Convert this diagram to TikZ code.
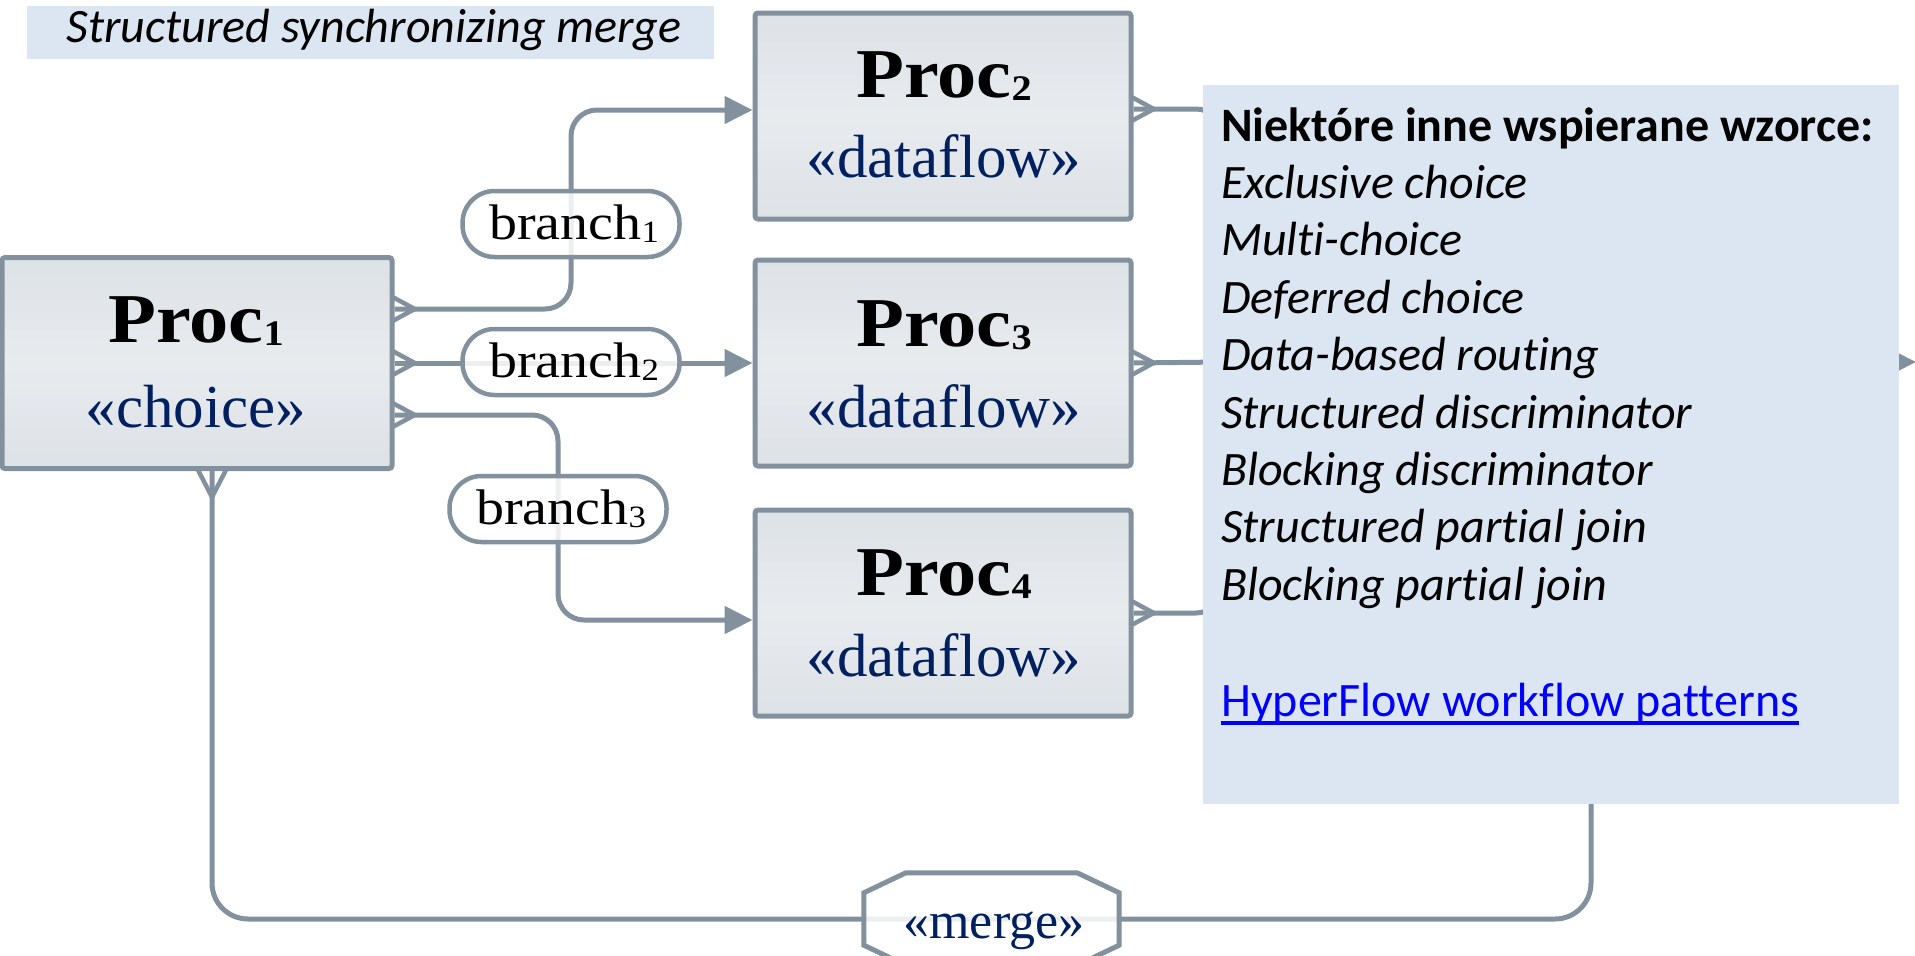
\documentclass[tikz,border=0pt]{standalone}
\usepackage{fontspec}
\setmainfont{Liberation Serif}
\newfontfamily\widefont[FakeStretch=1.12]{Liberation Serif}
\newfontfamily\carlito[Ligatures=NoCommon]{Carlito}
\usetikzlibrary{arrows.meta,decorations.markings,backgrounds}

\definecolor{linec}{RGB}{131,145,158}
\definecolor{boxA}{RGB}{221,226,231}
\definecolor{boxB}{RGB}{232,235,238}
\definecolor{notefill}{RGB}{220,230,242}
\definecolor{stereo}{RGB}{0,32,96}
\definecolor{linkblue}{RGB}{0,0,255}

\newcommand\pxfont[1]{\fontsize{#1}{#1}\selectfont}

\begin{document}
\begin{tikzpicture}[x=1pt,y=-1pt,
  procbox/.style={draw=linec, line width=5pt, rounded corners=3pt,
    top color=boxA, bottom color=boxA, middle color=boxB,
    minimum width=376pt, minimum height=206pt, inner sep=0pt},
  proctitle/.style={anchor=base, inner sep=0pt, font=\widefont\bfseries\pxfont{70}},
  stereotype/.style={anchor=base, inner sep=0pt, text=stereo, font=\pxfont{61}},
  branchlbl/.style={draw=linec, line width=4.5pt, rounded corners=32pt,
    fill=white, fill opacity=0.85, text opacity=1,
    minimum width=217pt, minimum height=66pt, inner sep=0pt, font=\widefont\pxfont{50}},
  octo/.style={draw=linec, line width=5pt, fill=white, fill opacity=0.85},
  notebox/.style={fill=notefill, inner sep=0pt, anchor=north west},
  infotext/.style={anchor=base west, inner sep=0pt, font=\carlito\itshape\pxfont{48}},
  conn/.style={color=linec, draw, line width=5pt, rounded corners=26pt},
  crow/.style={postaction={decorate}, decoration={markings,
    mark=at position 25pt with {\arrow{Straight Barb[length=25pt,width=27pt,line width=4.5pt]}}}},
  crowbig/.style={postaction={decorate}, decoration={markings,
    mark=at position 31pt with {\arrow{Straight Barb[length=31pt,width=32pt,line width=4.5pt]}}}},
  tipto/.style={arrows={-Triangle[length=28pt,width=27pt]}}
]
\useasboundingbox (0,0) rectangle (1915,956);

% title band
\node[notebox, minimum width=687pt, minimum height=53pt] (ttlbox) at (27,6) {};
\node[anchor=base, inner sep=0pt, font=\carlito\itshape\pxfont{48}] (ttl) at (374,42) {Structured synchronizing merge};

% process boxes
\node[procbox, minimum width=390pt, minimum height=211pt] (p1) at (197,363) {};
\node[procbox] (p2) at (943,116) {};
\node[procbox] (p3) at (943,363) {};
\node[procbox] (p4) at (943,613) {};

\node[proctitle] (p1t) at (196,342) {Proc\raisebox{-3pt}{\pxfont{36}1}};
\node[stereotype] (p1s) at (196,427) {«choice»};
\node[proctitle] (p2t) at (944,97) {Proc\raisebox{-3pt}{\pxfont{36}2}};
\node[stereotype] (p2s) at (944,177) {«dataflow»};
\node[proctitle] (p3t) at (944,346) {Proc\raisebox{-3pt}{\pxfont{36}3}};
\node[stereotype] (p3s) at (944,427) {«dataflow»};
\node[proctitle] (p4t) at (944,595) {Proc\raisebox{-3pt}{\pxfont{36}4}};
\node[stereotype] (p4s) at (944,676) {«dataflow»};

% branch labels
\node[branchlbl] (b1) at (571,224) {\hspace{6pt}branch\raisebox{-3pt}{\pxfont{31}1}};
\node[branchlbl] (b2) at (571,362) {\hspace{6pt}branch\raisebox{-3pt}{\pxfont{31}2}};
\node[branchlbl] (b3) at (558,509) {\hspace{6pt}branch\raisebox{-3pt}{\pxfont{31}3}};

% merge node: an elongated octagon
\node[minimum width=255pt, minimum height=92pt, inner sep=0pt] (mg) at (991.5,919) {};
\draw[octo] ([yshift=-20pt]mg.north west) -- ([xshift=42pt]mg.north west)
  -- ([xshift=-42pt]mg.north east) -- ([yshift=-20pt]mg.north east)
  -- ([yshift=20pt]mg.south east) -- ([xshift=-42pt]mg.south east)
  -- ([xshift=42pt]mg.south west) -- ([yshift=20pt]mg.south west) -- cycle;
\node[anchor=base, inner sep=0pt, text=stereo, font=\pxfont{52}] (mgt) at (994,938) {«merge»};

% note with supported patterns
\node[notebox, minimum width=696pt, minimum height=719pt] (note) at (1203,85) {};
\node[anchor=base west, inner sep=0pt, font=\carlito\bfseries\pxfont{48}] (i0) at (1221,141) {Niektóre inne wspierane wzorce:};
\foreach \t [count=\k] in {Exclusive choice, Multi-choice, Deferred choice,
    Data-based routing, Structured discriminator, Blocking discriminator,
    Structured partial join, Blocking partial join}
  \node[infotext] (i\k) at (1221,{141+57.4*\k}) {\t};
\node[anchor=base west, inner sep=0pt, text=linkblue, font=\carlito\pxfont{48}] (link) at (1221,716) {HyperFlow workflow patterns};
\draw[linkblue, line width=4pt] ([yshift=-7pt]link.base west) -- ([yshift=-7pt]link.base east);

\coordinate (join) at (1222,362);
\coordinate (split) at (1591,362);
\coordinate (out) at (1916,362);

\begin{pgfonlayer}{background}
  \draw[conn, crow, tipto] ([yshift=54pt]p1.east) -| (b1.center) |- ([yshift=6pt]p2.west);
  \draw[conn, crow, tipto] (p1.east) -- (p3.west);
  \draw[conn, crow, tipto] ([yshift=-52pt]p1.east) -| (b3.center) |- ([yshift=-7pt]p4.west);
  \draw[conn, crow] ([yshift=7pt]p2.east) -| (join);
  \draw[conn, crow] (p3.east) -- (join);
  \draw[conn, crow] (p4.east) -| (join);
  \draw[conn, tipto] (join) -- (out);
  \draw[conn, crowbig, rounded corners=36pt] ([xshift=15pt]p1.south) |- (mg.center) -| (split);
\end{pgfonlayer}
\end{tikzpicture}
\end{document}
